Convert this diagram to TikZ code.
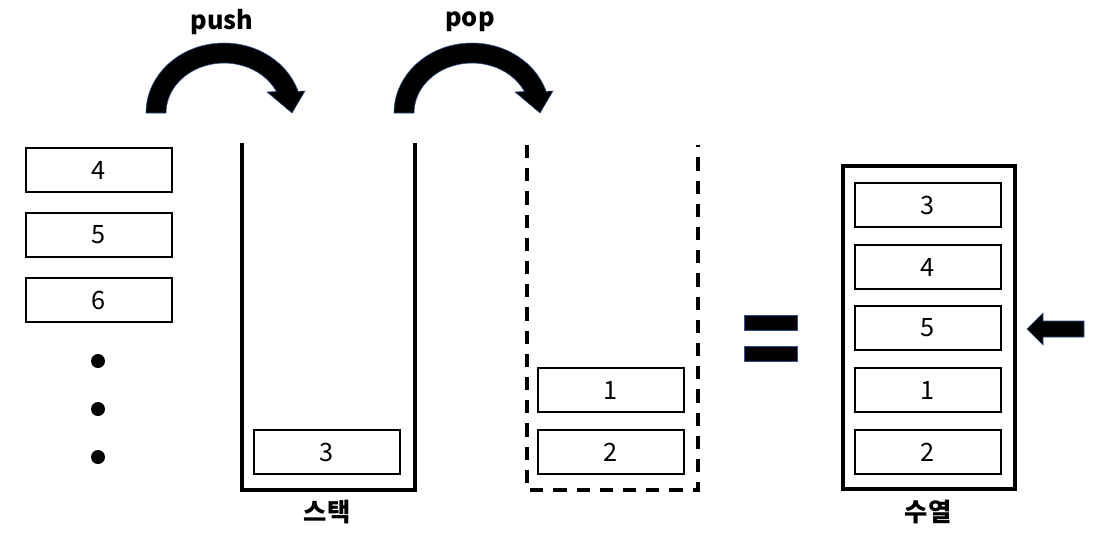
\documentclass[tikz,border=0pt]{standalone}
\usepackage{fontspec}
\setmainfont{Noto Sans CJK KR}
\usetikzlibrary{calc}
\definecolor{edgeblue}{RGB}{47,82,143}
\tikzset{
	cell/.style={draw, line width=1.4pt, minimum width=3.65cm, minimum height=1.1cm, inner sep=0pt, font=\fontsize{18}{20}\selectfont},
	title/.style={font=\fontsize{18}{20}\selectfont\bfseries, inner sep=0pt},
	wall/.style={line width=2.4pt},
	bent/.style={fill=black, draw=edgeblue, line width=0.4pt},
}
\def\bentarrow(#1,#2){\draw[bent] (#1-78,#2) arc[start angle=180, end angle=342, x radius=78, y radius=70] -- (#1+81,#2-22) -- (#1+68,#2) -- (#1+43,#2-21) -- (#1+52.4,#2-21.5) arc[start angle=334.5, end angle=180, x radius=58, y radius=50] -- cycle;}

\begin{document}
\begin{tikzpicture}[x=0.025cm, y=-0.025cm]
			%%%%% START %%%%%
			\useasboundingbox (0,0) rectangle (1110,541);
			
			% input
			\node[cell] (in4) at (99,170) {4};
			\node[cell] (in5) at (99,235) {5};
			\node[cell] (in6) at (99,300) {6};
			\fill (98,361) circle (7);
			\fill (98,409) circle (7);
			\fill (98,457) circle (7);
			
			% push / pop
			\node[title] (push) at (222,22) {push};
			\bentarrow(224,113)
			\node[title] (pop) at (470,22) {pop};
			\bentarrow(472,113)
			
			% stack
			\draw[wall] (242,143) -- (242,490) -- (415,490) -- (415,143);
			\node[cell] (st3) at (327,452) {3};
			\node[title] (stack) at (327,512) {스택};
			
			\draw[wall, dash pattern=on 0.33cm off 0.25cm] (527,145) -- (527,490) -- (698,490) -- (698,145);
			\node[cell] (st1) at (611,390) {1};
			\node[cell] (st2) at (611,452) {2};
			
			% equals
			\draw[bent] (744,315) rectangle (797,330);
			\draw[bent] (744,346) rectangle (797,361);
			
			% sequence
			\draw[wall] (843,166) rectangle (1015,489);
			\node[cell] (sq3) at (928,205) {3};
			\node[cell] (sq4) at (928,267) {4};
			\node[cell] (sq5) at (928,328) {5};
			\node[cell] (sq1) at (928,390) {1};
			\node[cell] (sq2) at (928,452) {2};
			\node[title] (seq) at (928,512) {수열};
			
			\draw[bent] (1027,329) -- (1043,313) -- (1043,321) -- (1084,321) -- (1084,337) -- (1043,337) -- (1043,345) -- cycle;
			%%%%% END %%%%%
\end{tikzpicture}
\end{document}
